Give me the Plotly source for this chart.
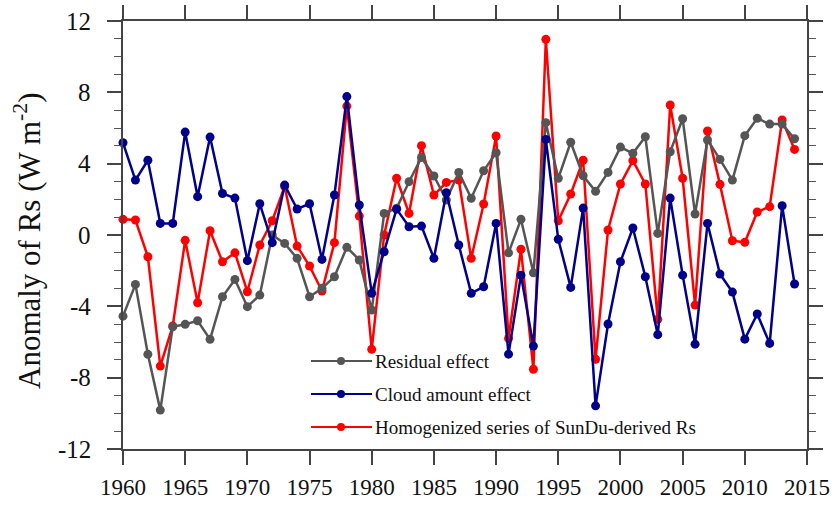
import plotly.graph_objects as go

years = list(range(1960, 2015))

residual_effect = [
    -4.55, -2.77, -6.69, -9.82, -5.15, -5.01, -4.81, -5.85, -3.46, -2.49,
    -4.02, -3.37, 0.00, -0.47, -1.31, -3.46, -2.99, -2.34, -0.69, -1.40,
    -4.21, 1.21, 1.50, 2.99, 4.35, 3.31, 1.96, 3.51, 2.06, 3.60,
    4.61, -1.00, 0.88, -2.12, 6.30, 3.18, 5.20, 3.32, 2.45, 3.51,
    4.93, 4.58, 5.51, 0.09, 4.67, 6.52, 1.18, 5.33, 4.24, 3.08,
    5.57, 6.54, 6.22, 6.22, 5.40,
]

cloud_amount_effect = [
    5.17, 3.08, 4.19, 0.65, 0.65, 5.77, 2.15, 5.49, 2.33, 2.07,
    -1.44, 1.75, -0.43, 2.80, 1.46, 1.75, -1.37, 2.24, 7.76, 1.68,
    -3.27, -0.94, 1.45, 0.46, 0.50, -1.31, 2.37, -0.56, -3.27, -2.90,
    0.65, -6.68, -2.25, -6.23, 5.36, -0.24, -2.94, 1.51, -9.58, -4.99,
    -1.50, 0.39, -2.34, -5.59, 2.07, -2.25, -6.12, 0.65, -2.19, -3.20,
    -5.84, -4.43, -6.08, 1.64, -2.75,
]

homogenized_rs = [
    0.88, 0.84, -1.22, -7.35, -5.10, -0.30, -3.80, 0.24, -1.50, -1.00,
    -3.18, -0.56, 0.80, 2.72, -0.62, -1.74, -3.14, -0.43, 7.23, 1.06,
    -6.41, 0.00, 3.18, 1.21, 5.01, 2.24, 2.95, 3.08, -1.31, 1.74,
    5.55, -5.80, -0.80, -7.53, 10.97, 0.80, 2.30, 4.19, -6.97, 0.28,
    2.86, 4.17, 2.86, -4.73, 7.29, 3.18, -3.93, 5.83, 2.84, -0.32,
    -0.41, 1.29, 1.59, 6.45, 4.80,
]

series_names = [
    "Residual effect",
    "Cloud amount effect",
    "Homogenized series of SunDu-derived Rs",
]
series_colors = ["#555555", "#00008B", "#FF0000"]
series_values = [residual_effect, cloud_amount_effect, homogenized_rs]

x_ticks = list(range(1960, 2016, 5))
y_ticks = list(range(-12, 13, 4))

FONT = "Liberation Serif"
W, H = 834, 506
ML, MR, MT, MB = 123, 27, 21, 57

fig = go.Figure()

# red first, then gray, then navy on top
for idx in (2, 0, 1):
    fig.add_trace(go.Scatter(
        x=years,
        y=series_values[idx],
        name=series_names[idx],
        mode="lines+markers",
        line=dict(color=series_colors[idx], width=2.5),
        marker=dict(color=series_colors[idx], size=9),
        cliponaxis=False,
        showlegend=False,
    ))

# pixel positions -> paper fractions
pw = W - ML - MR
ph = H - MT - MB


def px_x(px):
    return (px - ML) / pw


def px_y(py):
    return (H - MB - py) / ph


# hand-built legend inside the plot area
legend_rows = [361, 394, 427]
for name, color, py in zip(series_names, series_colors, legend_rows):
    yy = px_y(py)
    fig.add_shape(type="line", xref="paper", yref="paper",
                  x0=px_x(311), x1=px_x(372), y0=yy, y1=yy,
                  line=dict(color=color, width=2.2))
    fig.add_shape(type="circle", xref="paper", yref="paper",
                  xsizemode="pixel", ysizemode="pixel",
                  xanchor=px_x(341), yanchor=yy,
                  x0=-4, x1=4, y0=-4, y1=4,
                  line=dict(color=color, width=0), fillcolor=color)
    fig.add_annotation(x=px_x(373), y=yy, xref="paper", yref="paper",
                       text=name, showarrow=False, xanchor="left",
                       yanchor="middle",
                       font=dict(family=FONT, size=19, color="#111111"))

# y tick labels, right-aligned with a wide gap to the tick marks
for v in y_ticks:
    fig.add_annotation(x=px_x(93), y=v, xref="paper", yref="y",
                       text=str(v), showarrow=False, xanchor="right",
                       yanchor="middle",
                       font=dict(family=FONT, size=25, color="#111111"))

# vertical axis title
fig.add_annotation(x=px_x(28), y=px_y(241), xref="paper", yref="paper",
                   text="Anomaly of Rs (W m<sup>-2</sup>)", textangle=-90,
                   showarrow=False, xanchor="center", yanchor="middle",
                   font=dict(family=FONT, size=31, color="#111111"))

axis_style = dict(
    showline=True, linecolor="#444444", linewidth=1.5,
    ticks="outside", ticklen=14, tickwidth=1.5, tickcolor="#444444",
    mirror="ticks", showgrid=False, zeroline=False, automargin=False,
)

fig.update_xaxes(
    range=[1960, 2015], tickvals=x_ticks,
    ticktext=[str(v) for v in x_ticks],
    ticklabelstandoff=3,
    tickfont=dict(family=FONT, size=23, color="#111111"),
    **axis_style,
)
fig.update_yaxes(
    range=[-12, 12], tickvals=y_ticks,
    showticklabels=False,
    minor=dict(dtick=1, ticks="outside", ticklen=7, tickwidth=1.2,
               tickcolor="#555555", showgrid=False),
    **axis_style,
)

fig.update_layout(
    width=W, height=H,
    margin=dict(l=ML, r=MR, t=MT, b=MB),
    paper_bgcolor="white", plot_bgcolor="white",
    showlegend=False,
)

fig.write_html("out.html")
